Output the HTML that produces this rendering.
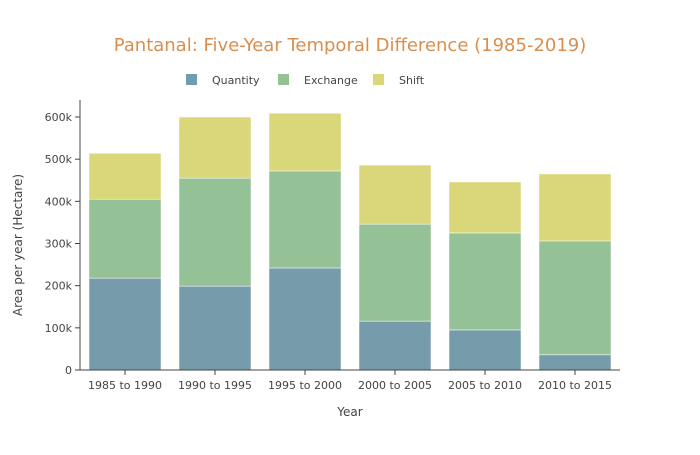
<!DOCTYPE html>
<html><head><meta charset="utf-8"><style>
body{margin:0;background:#fff}
svg{font-family:"DejaVu Sans","Liberation Sans",sans-serif}
</style></head><body>
<svg id="chart" width="700" height="450">
<text x="350" y="51" text-anchor="middle" font-size="18" fill="#d98e4d">Pantanal: Five-Year Temporal Difference (1985-2019)</text>
<g id="legend"></g>
<g id="grid"></g>
<g id="bars"></g>
<g id="axes"></g>
<text x="350" y="416" text-anchor="middle" font-size="12" fill="#444">Year</text>
<text transform="translate(22,245) rotate(-90)" text-anchor="middle" font-size="12" fill="#444">Area per year (Hectare)</text>
</svg>
<script>
const categories=["1985 to 1990","1990 to 1995","1995 to 2000","2000 to 2005","2005 to 2010","2010 to 2015"];
const quantity=[218,199,242,116,95,36];
const exchange=[187,256,230,230,230,270];
const shift=[109,145,137,140,121,159];
const yTicks=[0,100,200,300,400,500,600];
const yTickLabels=["0","100k","200k","300k","400k","500k","600k"];
const seriesNames=["Quantity","Exchange","Shift"];
const seriesColors=["#769cab","#95c196","#d9d77a"];

const NS="http://www.w3.org/2000/svg";
const x0=80,x1=620,yBase=370,pxPer=253/600;
const y=v=>yBase-v*pxPer;
const band=(x1-x0)/categories.length;
const xc=i=>x0+band*(i+0.5);
function mk(tag,attrs,parent){const e=document.createElementNS(NS,tag);for(const k in attrs)e.setAttribute(k,attrs[k]);parent.appendChild(e);return e;}
const bars=document.getElementById('bars'),axes=document.getElementById('axes'),legend=document.getElementById('legend');
const series=[quantity,exchange,shift];
categories.forEach((c,i)=>{
  let base=0;
  series.forEach((s,k)=>{
    const r=mk('rect',{x:xc(i)-band*0.4,y:y(base+s[i]),width:band*0.8,height:s[i]*pxPer,fill:seriesColors[k],stroke:"#fff","stroke-width":0.5},bars);
    
    
    base+=s[i];
  });
  const t=mk('text',{x:xc(i),y:yBase+19,'text-anchor':'middle','font-size':11,fill:'#444'},axes);
  t.textContent=c;
  
  
  mk('line',{x1:xc(i),x2:xc(i),y1:yBase,y2:yBase+5,stroke:'#444'},axes);
});
yTicks.forEach((v,i)=>{
  mk('line',{x1:x0-5,x2:x0,y1:y(v),y2:y(v),stroke:'#444'},axes);
  const t=mk('text',{x:x0-8,y:y(v)+4,'text-anchor':'end','font-size':11,fill:'#444'},axes);
  t.textContent=yTickLabels[i];
  
  
});
const xa=mk('line',{x1:x0,x2:x1,y1:yBase,y2:yBase,stroke:'#444'},axes);


const ya=mk('line',{x1:x0,x2:x0,y1:100,y2:yBase,stroke:'#444'},axes);


const lx=[186,278,373];
seriesNames.forEach((n,k)=>{
  const g=mk('g',{},legend);
  
  
  mk('rect',{x:lx[k],y:74,width:11,height:11,fill:seriesColors[k]},g);
  const t=mk('text',{x:lx[k]+26,y:84,'font-size':11,fill:'#444'},g);
  t.textContent=n;
});
</script>
</body></html>
